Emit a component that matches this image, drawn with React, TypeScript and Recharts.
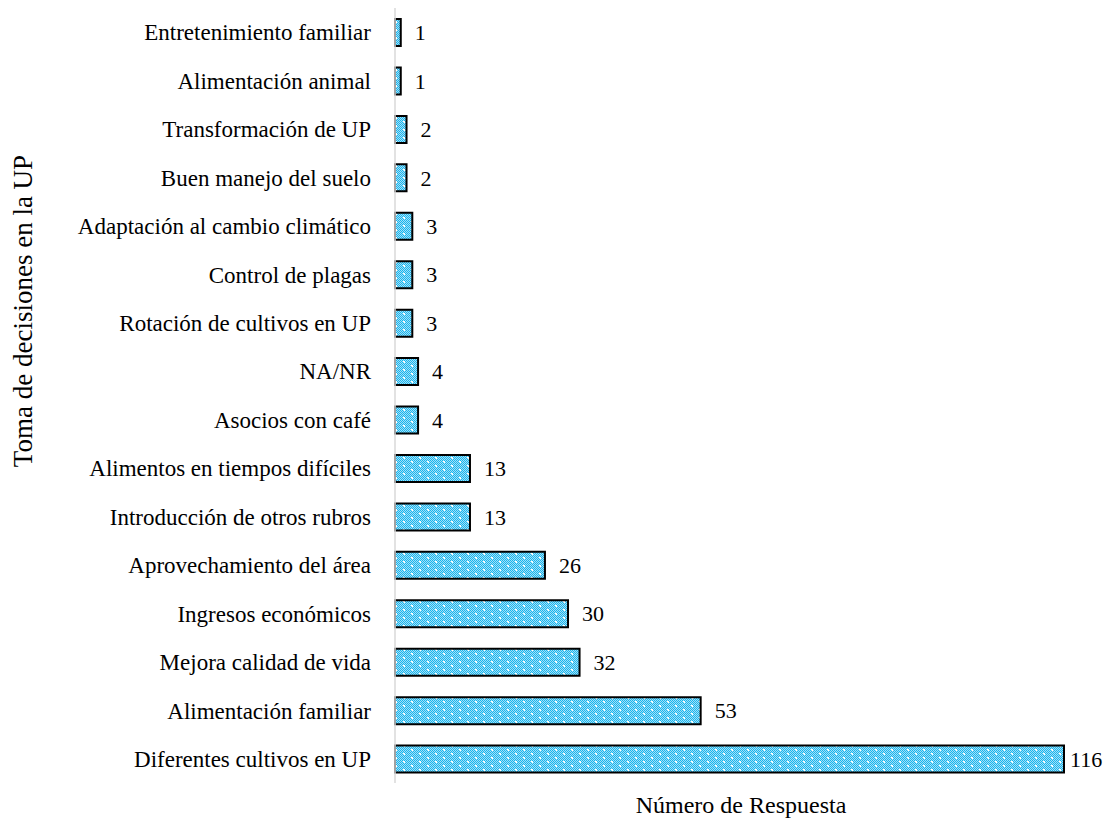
import React from 'react';
import { BarChart, Bar, XAxis, YAxis, LabelList } from 'recharts';

const categories = [
  'Entretenimiento familiar',
  'Alimentación animal',
  'Transformación de UP',
  'Buen manejo del suelo',
  'Adaptación al cambio climático',
  'Control de plagas',
  'Rotación de cultivos en UP',
  'NA/NR',
  'Asocios con café',
  'Alimentos en tiempos difíciles',
  'Introducción de otros rubros',
  'Aprovechamiento del área',
  'Ingresos económicos',
  'Mejora calidad de vida',
  'Alimentación familiar',
  'Diferentes cultivos en UP',
];
const values = [1, 1, 2, 2, 3, 3, 3, 4, 4, 13, 13, 26, 30, 32, 53, 116];

const data = categories.map((c, i) => ({ name: c, value: values[i] }));

const font = '"Liberation Serif", "Times New Roman", serif';

const ValueLabel = (props: any) => {
  const { x, y, width, height, value } = props;
  const tx = Math.min(Number(x) + Number(width) + 14, 1070);
  return (
    <text x={tx} y={Number(y) + Number(height) / 2} dy="0.35em" textAnchor="start" fill="#000" fontSize={22} fontFamily={font}>
      {value}
    </text>
  );
};

export default function App() {
  const checks: React.ReactNode[] = [];
  for (let y = 0; y < 8; y++) {
    for (let x = 0; x < 16; x++) {
      if ((x + y) % 2 === 0) checks.push(<rect key={`${x}-${y}`} x={x} y={y} width={1} height={1} fill="#19B5EE" />);
    }
  }
  return (
    <div style={{ position: 'absolute', left: 0, top: 0, width: 1110, height: 818, background: '#fff', fontFamily: font }}>
      <BarChart
        width={1110}
        height={818}
        data={data}
        layout="vertical"
        margin={{ top: 8, right: 46, bottom: 35, left: 0 }}
        barSize={27}
      >
        <defs>
          <pattern id="dots" x="0" y="0" width="16" height="8" patternUnits="userSpaceOnUse">
            <rect x={0} y={0} width={16} height={8} fill="#A3E0F7" />
            {checks}
            <rect x={3} y={1} width={2} height={1} fill="#FFFFFF" />
            <rect x={4} y={2} width={1} height={1} fill="#FFFFFF" />
            <rect x={11} y={5} width={2} height={1} fill="#FFFFFF" />
            <rect x={12} y={6} width={1} height={1} fill="#FFFFFF" />
          </pattern>
        </defs>
        <XAxis type="number" domain={[0, 116]} hide />
        <YAxis
          type="category"
          dataKey="name"
          width={395}
          tickLine={false}
          tickSize={0}
          tickMargin={24}
          axisLine={{ stroke: '#D9D9D9', strokeWidth: 1.5 }}
          tick={{ fill: '#000', fontSize: 23, fontFamily: font }}
          interval={0}
        />
        <Bar dataKey="value" fill="url(#dots)" stroke="#000" strokeWidth={2} isAnimationActive={false}>
          <LabelList dataKey="value" content={ValueLabel} />
        </Bar>
      </BarChart>
      <div style={{ position: 'absolute', left: 741, top: 793, transform: 'translateX(-50%)', whiteSpace: 'nowrap', fontSize: 24, lineHeight: '24px', color: '#000' }}>
        Número de Respuesta
      </div>
      <div style={{ position: 'absolute', left: 23, top: 311, transform: 'translate(-50%, -50%) rotate(-90deg)', whiteSpace: 'nowrap', fontSize: 27, lineHeight: '27px', color: '#000' }}>
        Toma de decisiones en la UP
      </div>
    </div>
  );
}
